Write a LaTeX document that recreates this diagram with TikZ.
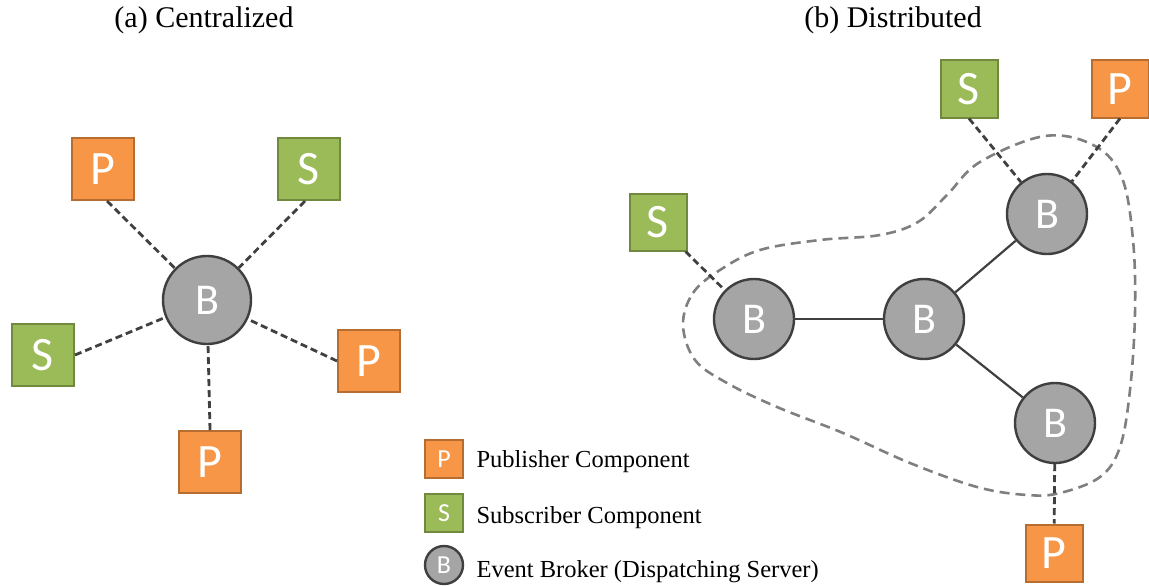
\documentclass[tikz,border=0pt]{standalone}
\usepackage{fontspec}
\setmainfont{Liberation Serif}
\newfontfamily\boxfont{Carlito}
\begin{document}
\definecolor{pfill}{HTML}{F79646}
\definecolor{pdraw}{HTML}{B66D31}
\definecolor{sfill}{HTML}{9BBB59}
\definecolor{sdraw}{HTML}{71893F}
\definecolor{bfill}{HTML}{A5A5A5}
\definecolor{bdraw}{HTML}{3F3F3F}
\definecolor{lnk}{HTML}{404040}
\definecolor{blob}{HTML}{7F7F7F}
\begin{tikzpicture}[x=1pt,y=-1pt,
  pbox/.style={draw=pdraw,fill=pfill,line width=2pt,minimum size=#1,inner sep=0pt,text=white,font=\boxfont\fontsize{48}{48}\selectfont},
  sbox/.style={draw=sdraw,fill=sfill,line width=2pt,minimum size=#1,inner sep=0pt,text=white,font=\boxfont\fontsize{48}{48}\selectfont},
  bnode/.style={circle,draw=bdraw,fill=bfill,line width=2.4pt,minimum size=#1,inner sep=0pt,text=white,font=\boxfont\fontsize{44}{44}\selectfont},
  dlink/.style={draw=lnk,line width=2.8pt,dash pattern=on 7pt off 4pt},
  slink/.style={draw=lnk,line width=2.2pt},
  title/.style={font=\fontsize{30}{30}\selectfont},
  legtext/.style={anchor=base west,font=\fontsize{24.5}{24.5}\selectfont},
  legfont/.style={font=\boxfont\fontsize{26}{26}\selectfont},
]
\useasboundingbox (0,0) rectangle (1149,586);
% titles
\node[title] (ta) at (204,20) {(a) Centralized};
\node[title] (tb) at (893,20) {(b) Distributed};
% (a) centralized
\node[bnode=88pt] (B0) at (207,300) {B};
\node[pbox=62pt] (P1) at (103,169) {P};
\node[sbox=62pt] (S1) at (309,169) {S};
\node[sbox=62pt] (S2) at (43,355) {S};
\node[pbox=62pt] (P2) at (369,361) {P};
\node[pbox=62pt] (P3) at (210,462) {P};
\draw[dlink] ([xshift=4pt]P1.south) -- (B0);
\draw[dlink] ([xshift=-4pt]S1.south) -- (B0);
\draw[dlink] (S2.east) -- (B0);
\draw[dlink] (P2.west) -- (B0);
\draw[dlink] (P3.north) -- (B0);
% (b) distributed
\draw[blob,line width=2.6pt,dash pattern=on 10pt off 6pt]
  plot[smooth cycle,tension=0.6] coordinates {
  (683,325) (693,293) (720,270) (760,250) (820,240) (880,235) (918,222)
  (947,195) (980,162) (1045,136) (1095,146) (1122,178) (1133,240)
  (1135,313) (1130,390) (1120,447) (1100,477) (1060,493) (1027,495)
  (977,487) (910,463) (843,433) (777,407) (727,383) (695,360)};
\node[bnode=80pt] (Bl) at (754,319) {B};
\node[bnode=80pt] (Bm) at (924,319) {B};
\node[bnode=80pt] (Bt) at (1047,214) {B};
\node[bnode=80pt] (Bb) at (1055,423) {B};
\node[sbox=57pt] (Sl) at (658,222) {S};
\node[sbox=57pt] (St) at (969,89) {S};
\node[pbox=57pt] (Pt) at (1120,89) {P};
\node[pbox=57pt] (Pb) at (1054,553) {P};
\draw[slink] (Bl) -- (Bm);
\draw[slink] (Bm) -- (Bt);
\draw[slink] (Bm) -- (Bb);
\draw[dlink] ([xshift=-2pt]Sl.south east) -- (Bl);
\draw[dlink] (St.south) -- (Bt);
\draw[dlink] (Pt.south) -- (Bt);
\draw[dlink] (Bb) -- (Pb);
% legend
\node[pbox=38pt,legfont] (LP) at (444,459) {P};
\node[sbox=38pt,legfont] (LS) at (444,513) {S};
\node[bnode=38pt,legfont] (LB) at (444,565) {B};
\node[legtext] (tP) at (473,467) {Publisher Component};
\node[legtext] (tS) at (473,523) {Subscriber Component};
\node[legtext] (tB) at (473,577) {Event Broker (Dispatching Server)};
\end{tikzpicture}
\end{document}
